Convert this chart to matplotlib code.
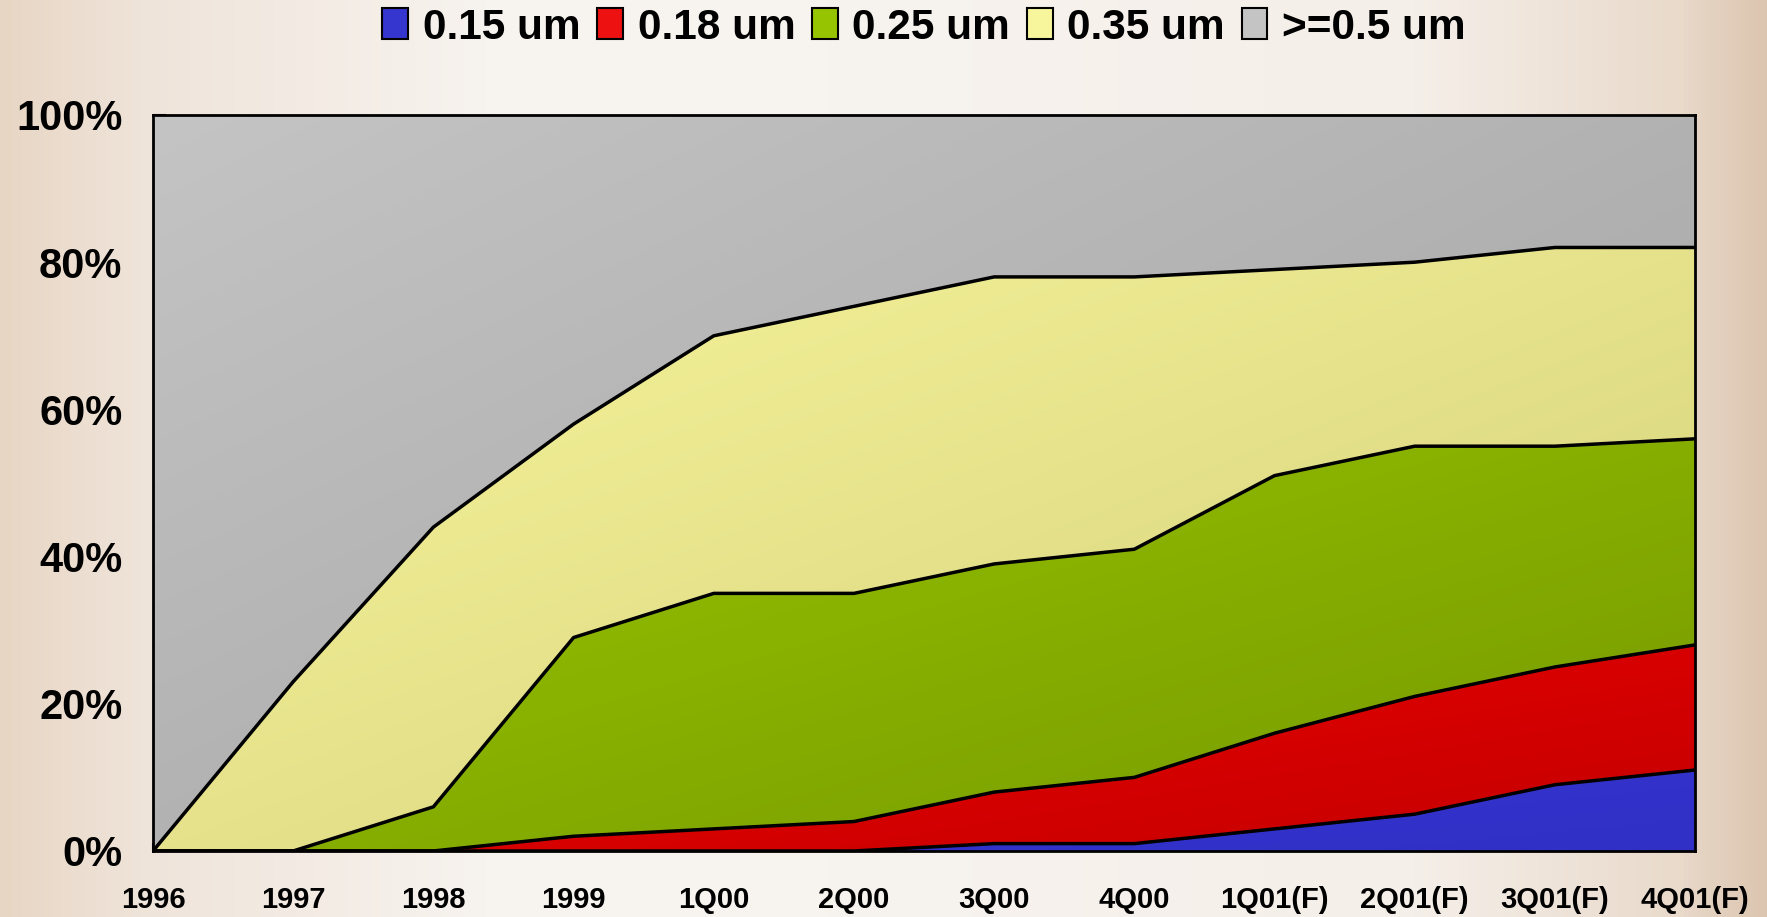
import numpy as np
import matplotlib.pyplot as plt
from matplotlib.colors import to_rgb
from matplotlib.patches import Patch

# data (percent share per process node)
periods = ['1996', '1997', '1998', '1999', '1Q00', '2Q00', '3Q00', '4Q00',
           '1Q01(F)', '2Q01(F)', '3Q01(F)', '4Q01(F)']
um015 = [0, 0, 0, 0, 0, 0, 1, 1, 3, 5, 9, 11]
um018 = [0, 0, 0, 2, 3, 4, 7, 9, 13, 16, 16, 17]
um025 = [0, 0, 6, 27, 32, 31, 31, 31, 35, 34, 30, 28]
um035 = [0, 23, 38, 29, 35, 39, 39, 37, 28, 25, 27, 26]
um05 = [100, 77, 56, 42, 30, 26, 22, 22, 21, 20, 18, 18]
labels = ['0.15 um', '0.18 um', '0.25 um', '0.35 um', '>=0.5 um']

# (light, dark) gradient ends per layer
grads = [('#3535D0', '#3030C6'),
         ('#EC0000', '#C40000'),
         ('#96C400', '#769800'),
         ('#F8F69C', '#D2CE7A'),
         ('#C4C4C4', '#A0A0A0')]

plt.rcParams['font.family'] = ['Liberation Sans', 'DejaVu Sans']
plt.rcParams['font.weight'] = 'bold'

fig = plt.figure(figsize=(17.67, 9.17), dpi=100)

# soft beige page background
bg = fig.add_axes([0, 0, 1, 1], zorder=-10)
xs = np.linspace(0, 1, 400)
stops = [0.0, 0.08, 0.3, 0.8, 0.95, 1.0]
cols = np.array([to_rgb(c) for c in ['#E8D6C4', '#EFE4DA', '#F8F5F1', '#F5EFE9', '#E9DACB', '#DCC5B0']])
row = np.stack([np.interp(xs, stops, cols[:, k]) for k in range(3)], axis=-1)
bg.imshow(row[None, :, :], aspect='auto', extent=[0, 1, 0, 1])
bg.set_xlim(0, 1)
bg.set_ylim(0, 1)
bg.axis('off')

ax = fig.add_axes([0.0866, 0.072, 0.8727, 0.8026])
x = np.arange(len(periods))
layers = np.array([um015, um018, um025, um035, um05], dtype=float)

# diagonal gradient parameter
gy, gx = np.mgrid[0:1:200j, 0:1:400j]
t = (gx + gy) / 2  # row 0 is top (origin='upper')

base = np.zeros(len(x))
for i, vals in enumerate(layers):
    top = base + vals
    c0, c1 = np.array(to_rgb(grads[i][0])), np.array(to_rgb(grads[i][1]))
    coll = ax.fill_between(x, base, top, facecolor=grads[i][1], edgecolor='none', zorder=1)
    img = c0[None, None, :] * (1 - t[..., None]) + c1[None, None, :] * t[..., None]
    nz = np.nonzero(vals > 0)[0]
    x0 = max(nz[0] - 1, 0)
    ext = [x0, x[-1], base[nz].min(), top.max()]
    im = ax.imshow(img, extent=ext, aspect='auto', origin='upper', zorder=2)
    im.set_clip_path(coll.get_paths()[0], transform=ax.transData)
    base = top

cum = np.cumsum(layers, axis=0)
for i in range(4):
    ax.plot(x, cum[i], color='black', lw=2.5, zorder=3)

ax.set_xlim(0, x[-1])
ax.set_ylim(0, 100)
ax.set_xticks(x)
ax.set_xticklabels(periods, fontsize=21, fontweight='bold')
ax.set_yticks([0, 20, 40, 60, 80, 100])
ax.set_yticklabels(['0%', '20%', '40%', '60%', '80%', '100%'], fontsize=30, fontweight='bold')
ax.tick_params(axis='y', direction='in', length=9, width=1.5, pad=22)
ax.tick_params(axis='x', direction='in', length=6, width=1.5, pad=25)
for s in ax.spines.values():
    s.set_linewidth(2)
    s.set_color('black')
    s.set_zorder(5)

handles = [Patch(facecolor=grads[i][0] if i != 1 else '#EE1111', edgecolor='black', lw=1.5)
           for i in range(5)]
fig.legend(handles, labels, ncol=5, loc='center', bbox_to_anchor=(0.523, 0.970),
           frameon=False, handlelength=0.6, handleheight=0.75,
           handletextpad=0.35, columnspacing=0.4, prop={'weight': 'bold', 'size': 30.5})

fig.savefig('out.png', dpi=100)
